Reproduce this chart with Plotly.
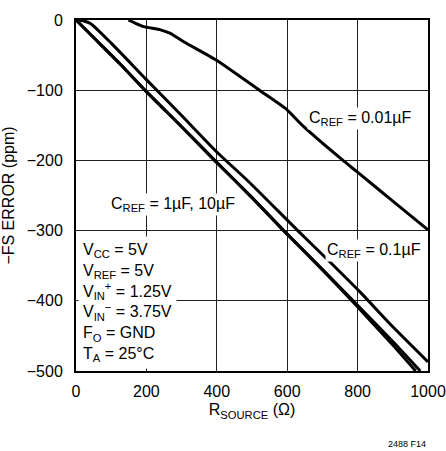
import plotly.graph_objects as go

# ---- data ----
a_x = [0, 60, 126, 200, 300, 396, 500, 590, 700, 793, 900, 965]
a_y = [0, -30, -63, -102, -152, -201, -253, -300, -356, -405, -463, -500]
a2_x = [0, 60, 126, 200, 300, 396, 500, 590, 700, 793, 900, 978]
a2_y = [0, -30, -63, -102, -152, -201, -253, -300, -355, -403, -458, -500]
b_x = [0, 20, 41, 100, 200, 300, 400, 490, 630, 720, 808, 900, 1000]
b_y = [0, -1, -5, -33, -85, -136, -188, -230, -300, -344, -388, -437, -487]
c_x = [149, 170, 192, 240, 268, 306, 398, 524, 595, 647, 756, 798, 900, 1000]
c_y = [0, -5, -9.5, -14, -19, -31, -57, -101, -126, -152, -199, -216, -258, -299]

x_ticks = [0, 200, 400, 600, 800, 1000]
y_ticks = [0, -100, -200, -300, -400, -500]
y_tick_text = ["0", "−100", "−200", "−300", "−400", "−500"]

FONT = "Liberation Sans, Arial, sans-serif"

fig = go.Figure()
for xs, ys in [(a_x, a_y), (a2_x, a2_y), (b_x, b_y), (c_x, c_y)]:
    fig.add_trace(go.Scatter(x=xs, y=ys, mode="lines",
                             line=dict(color="black", width=3, shape="spline", smoothing=0.6),
                             showlegend=False, hoverinfo="skip"))

fig.update_layout(
    width=446, height=451,
    margin=dict(l=76, r=18, t=20, b=80, autoexpand=False),
    paper_bgcolor="white", plot_bgcolor="white",
    font=dict(family=FONT, size=16, color="black"),
    showlegend=False,
)
fig.update_xaxes(
    range=[0, 1000], tickvals=x_ticks, ticktext=[str(v) for v in x_ticks],
    showgrid=True, gridcolor="#222", gridwidth=1,
    showline=True, linecolor="black", linewidth=2, mirror=True,
    zeroline=False, ticks="", ticklabelstandoff=5, automargin=False,
    ticklabeloverflow="allow",
    title=dict(text="R<sub>SOURCE</sub> (Ω)", standoff=5, font=dict(size=16)),
)
fig.update_yaxes(
    range=[-500, 0], tickvals=y_ticks, ticktext=y_tick_text,
    showgrid=True, gridcolor="#222", gridwidth=1,
    showline=True, linecolor="black", linewidth=2, mirror=True,
    zeroline=False, ticks="", ticklabelstandoff=8, automargin=False,
    ticklabeloverflow="allow",
    title=dict(text="−FS ERROR (ppm)", standoff=8, font=dict(size=16)),
)

ann_common = dict(showarrow=False, bgcolor="white", font=dict(family=FONT, size=16, color="black"))
fig.add_annotation(x=808, y=-141, text="C<sub>REF</sub> = 0.01µF", **ann_common)
fig.add_annotation(x=276, y=-263, text="C<sub>REF</sub> = 1µF, 10µF", **ann_common)
fig.add_annotation(x=847, y=-328, text="C<sub>REF</sub> = 0.1µF", **ann_common)
fig.add_annotation(
    x=0, y=-500, xanchor="left", yanchor="bottom", align="left", xshift=2, yshift=2,
    text=("V<sub>CC</sub> = 5V<br>V<sub>REF</sub> = 5V<br>V<sub>IN</sub><sup>+</sup> = 1.25V<br>"
          "V<sub>IN</sub><sup>−</sup> = 3.75V<br>F<sub>O</sub> = GND<br>T<sub>A</sub> = 25°C"),
    borderpad=4, **ann_common)
fig.add_annotation(xref="paper", yref="paper", x=1.0, y=0, yshift=-66, xanchor="right", yanchor="top",
                   text="2488 F14", showarrow=False, font=dict(family=FONT, size=9, color="black"))

fig.write_html("out.html",
               config={"displayModeBar": False},
               post_script="document.body.style.margin='0px';"
                           "document.documentElement.style.overflow='hidden';")
